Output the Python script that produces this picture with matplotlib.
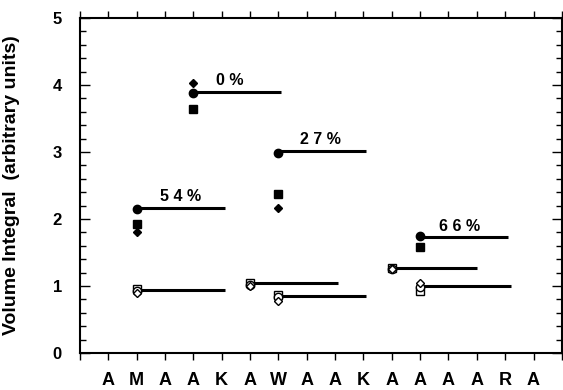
import matplotlib
matplotlib.use("Agg")
import matplotlib.pyplot as plt
from matplotlib.ticker import MultipleLocator

plt.rcParams['font.family'] = ['Liberation Sans', 'DejaVu Sans']
plt.rcParams['font.weight'] = 'bold'

residues = list("AMAAKAWAAKAAAARA")

# filled markers
fc_x = [2, 4, 7, 12]
fc_y = [2.15, 3.88, 2.99, 1.74]
fs_x = [2, 4, 7, 12]
fs_y = [1.92, 3.64, 2.37, 1.58]
fd_x = [2, 4, 7]
fd_y = [1.80, 4.03, 2.16]

# open markers
os_x = [2, 6, 7, 11, 12]
os_y = [0.95, 1.05, 0.87, 1.27, 0.92]
oc_x = [2, 6, 7, 11, 12]
oc_y = [0.92, 1.02, 0.83, 1.25, 0.99]
od_x = [2, 6, 7, 11, 12]
od_y = [0.89, 1.00, 0.78, 1.25, 1.04]

# horizontal bars
fl_start = [2, 4, 7, 12]
fl_end = [5.1, 7.1, 10.1, 15.1]
fl_y = [2.17, 3.90, 3.01, 1.73]
ol_start = [2, 6, 7, 11, 12]
ol_end = [5.1, 9.1, 10.1, 14.0, 15.2]
ol_y = [0.94, 1.04, 0.85, 1.27, 1.00]

pct_text = ["5 4 %", "0 %", "2 7 %", "6 6 %"]
pct_x = [3.55, 5.3, 8.5, 13.4]
pct_y = [2.33, 4.07, 3.19, 1.89]

fig = plt.figure(figsize=(5.63, 3.90), dpi=100)
ax = fig.add_axes([0.142, 0.095, 0.856, 0.859])

for s, e, y in zip(fl_start, fl_end, fl_y):
    ax.plot([s, e], [y, y], color='black', lw=2.2, solid_capstyle='butt', zorder=2)
for s, e, y in zip(ol_start, ol_end, ol_y):
    ax.plot([s, e], [y, y], color='black', lw=2.2, solid_capstyle='butt', zorder=2)

ax.plot(fc_x, fc_y, 'o', color='black', ms=6, ls='none', zorder=3)
ax.plot(fs_x, fs_y, 's', color='black', ms=6, ls='none', zorder=3)
ax.plot(fd_x, fd_y, 'D', color='black', ms=4.5, ls='none', zorder=3)
ax.plot(os_x, os_y, 's', mfc='white', mec='black', mew=1, ms=6, ls='none', zorder=3)
ax.plot(oc_x, oc_y, 'o', mfc='white', mec='black', mew=1, ms=6, ls='none', zorder=4)
ax.plot(od_x, od_y, 'D', mfc='white', mec='black', mew=1, ms=4.5, ls='none', zorder=5)

for t, x, y in zip(pct_text, pct_x, pct_y):
    ax.text(x, y, t, ha='center', va='center', fontsize=11.5, fontweight='bold')

ax.set_xlim(0, 17)
ax.set_ylim(0, 5)
ax.set_xticks(range(0, 18))
ax.set_xticklabels([''] + residues + [''])
ax.yaxis.set_major_locator(MultipleLocator(1))
ax.yaxis.set_minor_locator(MultipleLocator(0.2))
ax.tick_params(axis='x', which='major', direction='out', top=True, length=5, width=1,
               pad=9, labelsize=13)
ax.tick_params(axis='y', which='both', direction='in', right=True)
ax.tick_params(axis='y', which='major', length=7, width=1, pad=13, labelsize=12)
ax.tick_params(axis='y', which='minor', length=4, width=1)
for lab in ax.get_xticklabels() + ax.get_yticklabels():
    lab.set_fontweight('bold')
for sp in ax.spines.values():
    sp.set_linewidth(1.5)

ax.set_ylabel('Volume Integral  (arbitrary units)', fontsize=14, fontweight='bold')
ax.yaxis.set_label_coords(-0.124, 0.5)

fig.savefig('out.png', dpi=100)
